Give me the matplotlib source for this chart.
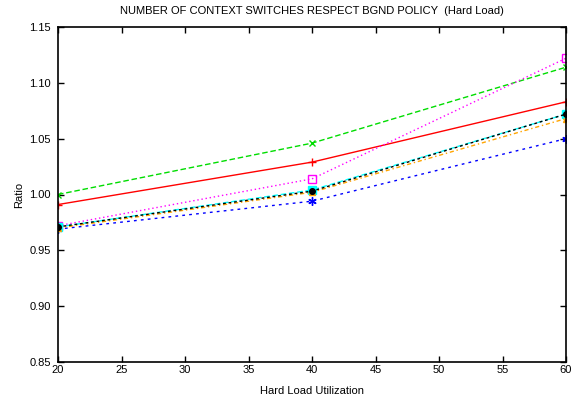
import matplotlib
matplotlib.use("Agg")
from matplotlib import pyplot as plt

#%% Data

util = [20, 40, 60]

red = [0.991, 1.029, 1.083]
green = [1.000, 1.046, 1.114]
blue = [0.969, 0.994, 1.050]
magenta = [0.972, 1.014, 1.122]
cyan = [0.971, 1.004, 1.072]
black = [0.971, 1.003, 1.072]
orange = [0.970, 1.002, 1.068]

#%% Plot

plt.rcParams['font.family'] = ['Liberation Sans', 'DejaVu Sans']
plt.rcParams['font.size'] = 8

fig = plt.figure(figsize=(5.73, 3.99), dpi=100)
ax = fig.add_axes([58 / 573, 37 / 399, 508 / 573, 335 / 399])

ax.plot(util, red, color='red', lw=1, ls='-', marker='+', ms=6, mew=1)
ax.plot(util, green, color='#00dd00', lw=1, ls=(0, (4, 2)), marker='x', ms=5, mew=1)
ax.plot(util, blue, color='blue', lw=1, ls=(0, (2, 3)), marker=(6, 2, 0), ms=6, mew=1)
ax.plot(util, magenta, color='magenta', lw=1, ls=(0, (1, 2)), marker='s', ms=6, mfc='none', mew=1)
ax.plot(util, cyan, color='cyan', lw=1, ls=(0, (4, 2)), marker='s', ms=6)
ax.plot(util, orange, color='orange', lw=1, ls=(0, (3, 2, 1, 2)), marker='^', ms=5, mfc='#a0522d', mec='orange')
ax.plot(util, black, color='black', lw=1, ls=(0, (2, 2)), marker='o', ms=4)

ax.set_xlim(20, 60)
ax.set_ylim(0.85, 1.15)
ax.set_xticks(range(20, 61, 5))
ax.set_yticks([0.85, 0.90, 0.95, 1.00, 1.05, 1.10, 1.15])
ax.set_yticklabels(["0.85", "0.90", "0.95", "1.00", "1.05", "1.10", "1.15"])
ax.tick_params(direction='in', top=True, right=True, length=4, width=1)
ax.tick_params(axis='x', pad=2)
ax.tick_params(axis='y', pad=5)
for s in ax.spines.values():
    s.set_linewidth(1.2)

ax.set_xlabel("Hard Load Utilization", labelpad=8)
ax.set_ylabel("Ratio", labelpad=4)
fig.text(312 / 573, 1 - 11 / 399, "NUMBER OF CONTEXT SWITCHES RESPECT BGND POLICY  (Hard Load)",
         ha='center', va='center')

fig.savefig("out.png", dpi=100)
